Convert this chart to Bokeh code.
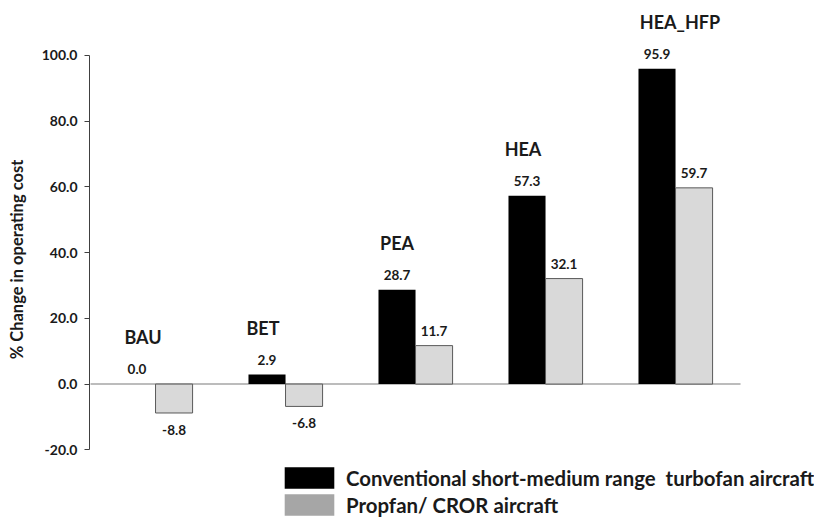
import numpy as np
from bokeh.plotting import figure
from bokeh.models import (Range1d, FixedTicker, NumeralTickFormatter, Legend,
                          LegendItem, ColumnDataSource)
from bokeh.core.properties import value
from bokeh.embed import file_html
from bokeh.resources import INLINE

# ---------------- data ----------------
categories = ["BAU", "BET", "PEA", "HEA", "HEA_HFP"]
conventional = [0.0, 2.9, 28.7, 57.3, 95.9]
propfan = [-8.8, -6.8, 11.7, 32.1, 59.7]
series_names = ["Conventional short-medium range  turbofan aircraft",
                "Propfan/ CROR aircraft"]
y_ticks = [-20, 0, 20, 40, 60, 80, 100]
y_title = "% Change in operating cost"

# ---------------- layout / style ----------------
FONT = "Lato"
W, H = 814, 518
BAR_W = 0.285
cat_label_dx = [6, -4, 0, -4, 23]   # small pixel nudges of the category titles

n = len(categories)
idx = np.arange(n)
x_black = idx - BAR_W / 2
x_gray = idx + BAR_W / 2

p = figure(width=W, height=H, output_backend="svg", toolbar_location=None,
           x_range=Range1d(-0.508, 5.069), y_range=Range1d(-40.9, 116.7),
           x_axis_location=None, min_border_left=89, min_border_right=0,
           min_border_top=0, min_border_bottom=0)
p.outline_line_color = None
p.grid.visible = False
p.background_fill_color = "white"
p.border_fill_color = "white"

# zero line
p.segment(x0=[-0.5], x1=[n - 0.5], y0=[0], y1=[0],
          line_color="#a6a6a6", line_width=1.6)

src_b = ColumnDataSource(dict(x=x_black, top=conventional,
                              lab=[f"{v:.1f}" for v in conventional],
                              off=[-15 if v >= 0 else 17 for v in conventional]))
src_g = ColumnDataSource(dict(x=x_gray, top=propfan,
                              lab=[f"{v:.1f}" for v in propfan],
                              off=[-15 if v >= 0 else 17 for v in propfan]))

p.vbar(x="x", top="top", bottom=0, width=BAR_W, source=src_b,
       fill_color="black", line_color=None)
p.vbar(x="x", top="top", bottom=0, width=BAR_W, source=src_g,
       fill_color="#d9d9d9", line_color="#595959", line_width=1)

for src in (src_b, src_g):
    p.text(x="x", y="top", text="lab", y_offset="off", source=src,
           text_font=value(FONT), text_font_style="bold",
           text_font_size="13.5px", text_align="center",
           text_baseline="middle", text_color="#1a1a1a")

src_c = ColumnDataSource(dict(x=x_black, y=conventional, lab=categories,
                              dx=cat_label_dx))
p.text(x="x", y="y", text="lab", x_offset="dx", y_offset=-47, source=src_c,
       text_font=value(FONT), text_font_style="bold", text_font_size="18px",
       text_align="center", text_baseline="middle", text_color="#1a1a1a")

# y axis
ax = p.yaxis[0]
ax.ticker = FixedTicker(ticks=y_ticks)
ax.formatter = NumeralTickFormatter(format="0.0")
ax.bounds = (y_ticks[0], y_ticks[-1])
ax.axis_line_color = "#404040"
ax.major_tick_line_color = "#404040"
ax.major_tick_out = 5
ax.major_tick_in = 0
ax.minor_tick_line_color = None
ax.major_label_standoff = 7
ax.major_label_text_font = FONT
ax.major_label_text_font_style = "bold"
ax.major_label_text_font_size = "14px"
ax.major_label_text_color = "#1a1a1a"
ax.axis_label = y_title
ax.axis_label_standoff = 12
ax.axis_label_text_font = FONT
ax.axis_label_text_font_style = "bold"
ax.axis_label_text_font_size = "16.5px"
ax.axis_label_text_color = "#1a1a1a"

# legend (hidden zero-height bars so swatch colours match the original legend)
r1 = p.vbar(x=[0], top=[0], bottom=[0], width=0.01, fill_color="black",
            line_color=None)
r2 = p.vbar(x=[0], top=[0], bottom=[0], width=0.01, fill_color="#a6a6a6",
            line_color=None)
legend = Legend(items=[LegendItem(label=series_names[0], renderers=[r1]),
                       LegendItem(label=series_names[1], renderers=[r2])],
                location=(189, 0), orientation="vertical",
                glyph_width=62, glyph_height=27, spacing=-2, padding=0,
                margin=0, label_standoff=6, border_line_color=None,
                background_fill_alpha=0,
                label_text_font=FONT, label_text_font_style="bold",
                label_text_font_size="20.4px", label_text_color="#1a1a1a")
p.add_layout(legend)

open("out.html", "w").write(file_html(p, INLINE))
